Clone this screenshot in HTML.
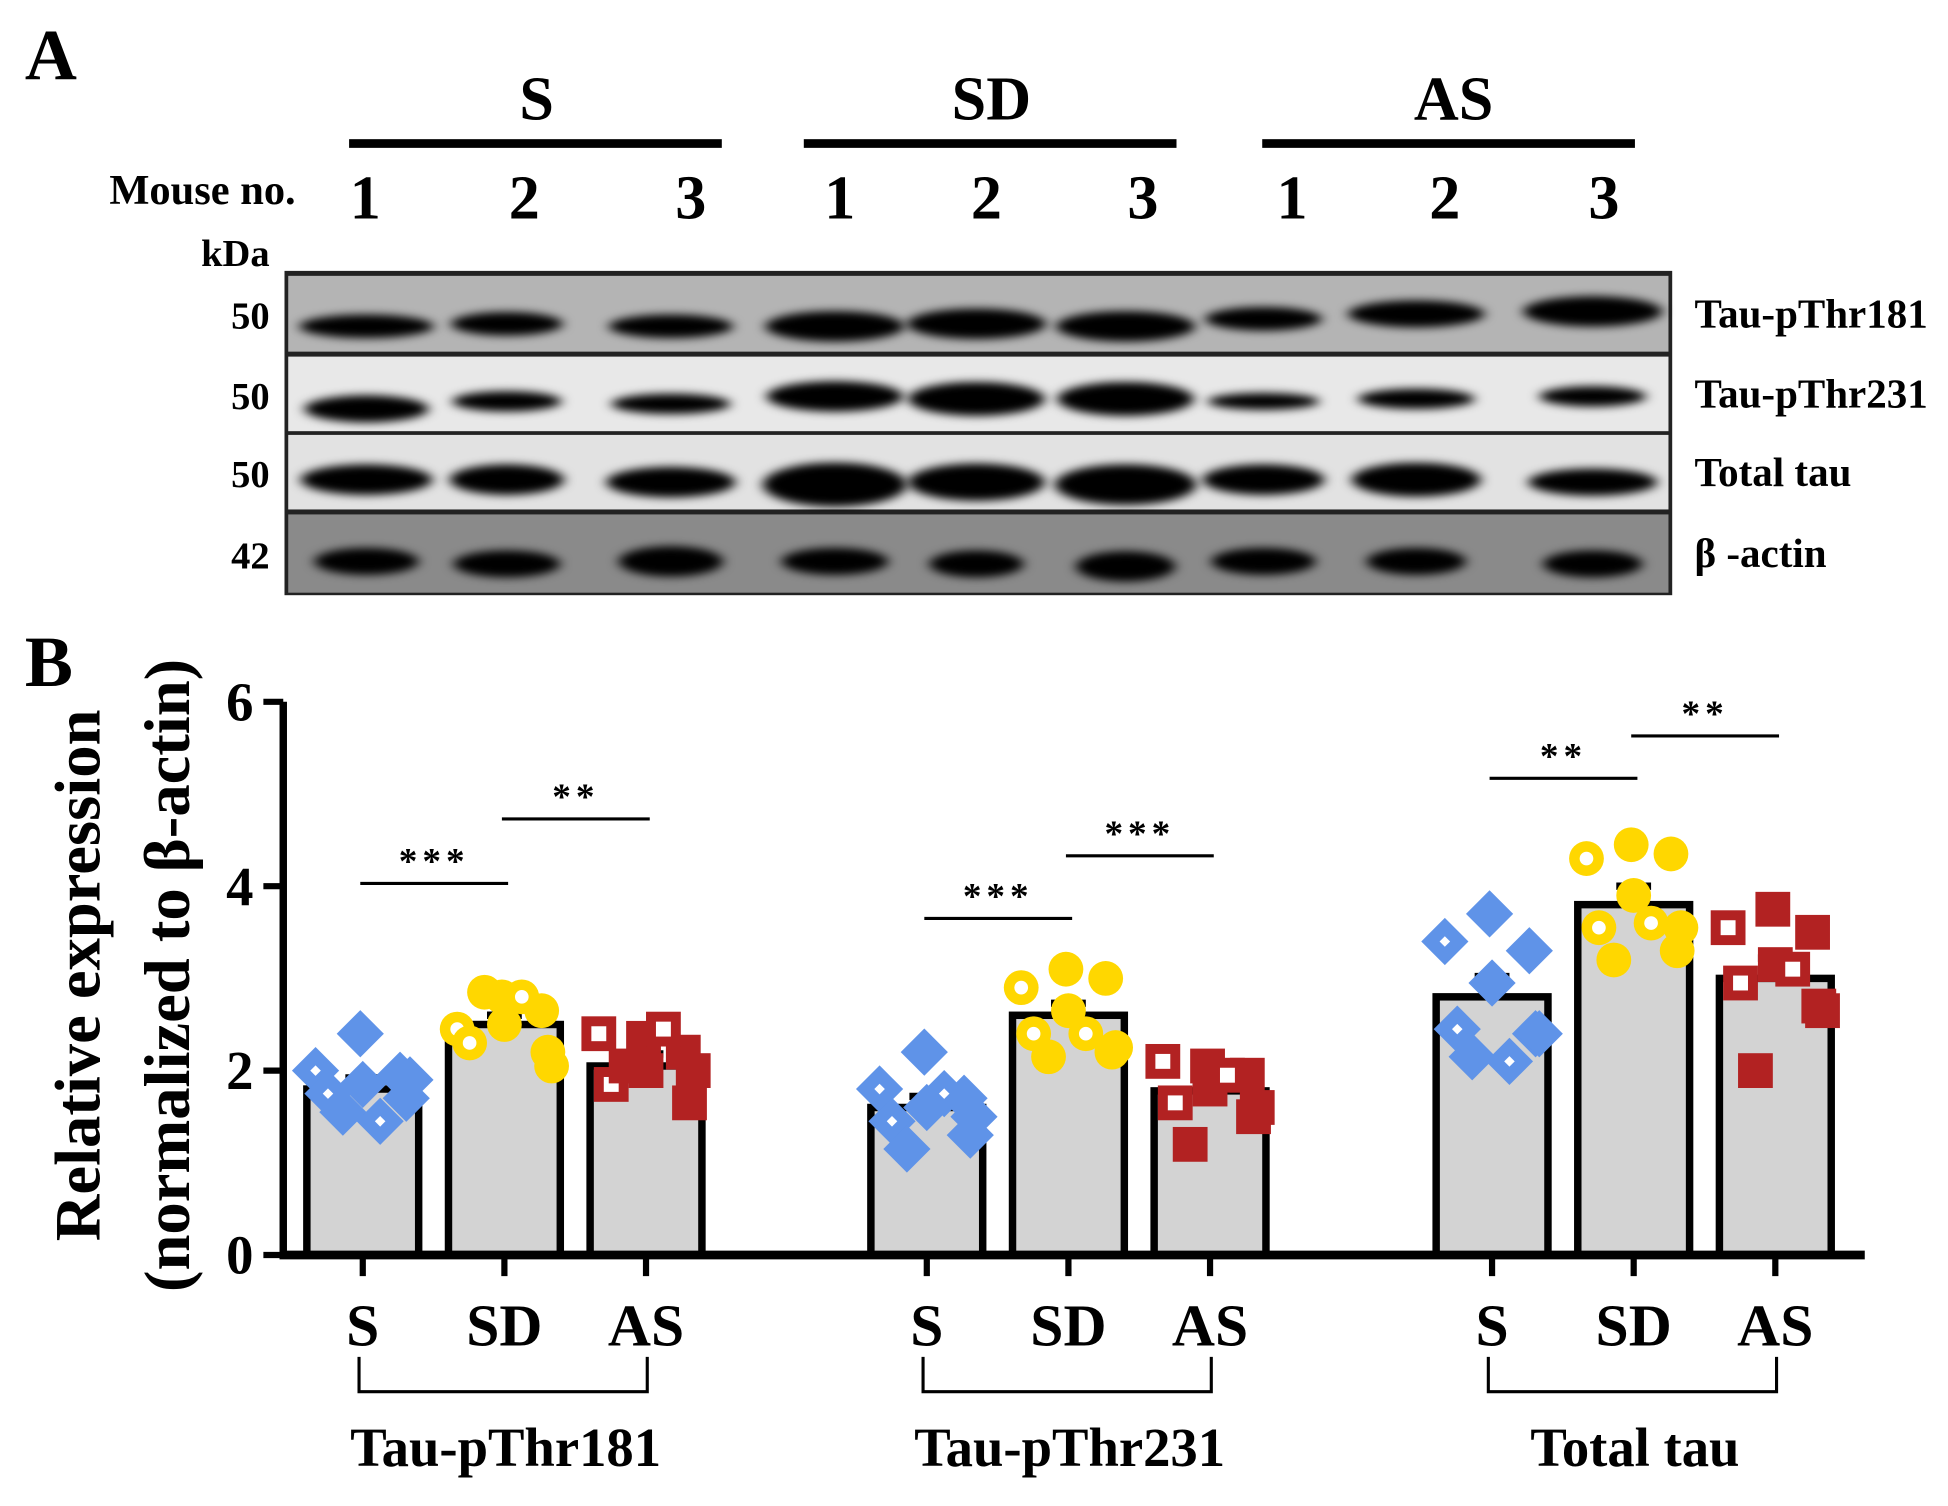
<!DOCTYPE html>
<html><head><meta charset="utf-8">
<style>
html,body{margin:0;padding:0;background:#fff;}
svg{display:block;}
text{font-family:"Liberation Serif",serif;font-weight:bold;fill:#000;}
</style></head>
<body>
<svg id="fig" width="1948" height="1506" viewBox="0 0 1568 1212" preserveAspectRatio="none">
<defs>
<filter id="blur" x="-30%" y="-100%" width="160%" height="300%"><feGaussianBlur stdDeviation="5 3.5"/></filter>
</defs>
<g id="panelA">
  <text x="20" y="64" font-size="58">A</text>
  <text x="432" y="96" font-size="50" text-anchor="middle">S</text>
  <text x="798" y="96" font-size="50" text-anchor="middle">SD</text>
  <text x="1170" y="96" font-size="50" text-anchor="middle">AS</text>
  <rect x="281" y="112" width="300" height="7"/>
  <rect x="647" y="112" width="300" height="7"/>
  <rect x="1016" y="112" width="300" height="7"/>
  <text x="88" y="164" font-size="34" textLength="150" lengthAdjust="spacingAndGlyphs">Mouse no.</text>
  <g id="laneNums"></g>
  <text x="217" y="214" font-size="31" text-anchor="end">kDa</text>
  <g id="blot"></g>
</g>
<g id="panelB">
  <text x="20" y="552" font-size="58">B</text>
  <text transform="translate(80,785) rotate(-90)" font-size="52" text-anchor="middle">Relative expression</text>
  <text transform="translate(152,785) rotate(-90)" font-size="52" text-anchor="middle">(normalized to β-actin)</text>
  <g id="chart"></g>
</g>
</svg>
<script>
const NS='http://www.w3.org/2000/svg';
function mk(tag,attrs,parent){const e=document.createElementNS(NS,tag);for(const k in attrs)e.setAttribute(k,attrs[k]);parent.appendChild(e);return e;}

// ---------- Panel A (blot) ----------
const laneNumbers=['1','2','3','1','2','3','1','2','3'];
const laneNumX=[294,422,556,676,794,920,1040,1163,1291];
const bandX=[295,408,540,672,786,906,1017,1140,1282];
const stripLabels=['Tau-pThr181','Tau-pThr231','Total tau','β -actin'];
const stripKda=['50','50','50','42'];
const stripTop=[222,287,350,414], stripH=[61,60,60,63];
const stripBg=['#b4b4b4','#e8e8e8','#e2e2e2','#8a8a8a'];
const bandW=[[108,90,100,112,112,112,94,110,112],[100,88,96,110,110,110,90,94,86],[106,92,104,116,110,114,98,104,104],[84,86,84,86,76,80,84,80,80]];
const bandH=[[14,14,14,18,18,18,14,16,18],[16,12,12,18,20,20,10,12,12],[18,18,18,26,22,24,18,20,16],[16,16,18,16,16,18,16,16,16]];
const bandDy=[[4,2,4,4,2,4,-2,-6,-8],[6,0,2,-4,-2,-2,0,-2,-4],[0,0,2,4,2,4,0,0,2],[0,2,0,0,2,4,0,0,2]];

const ln=document.getElementById('laneNums');
laneNumbers.forEach((n,i)=>{const t=mk('text',{x:laneNumX[i],y:176,'font-size':50,'text-anchor':'middle'},ln);t.textContent=n;

});

const blot=document.getElementById('blot');
const bb=mk('rect',{x:229,y:218,width:1117,height:261,fill:'#222'},blot);


stripLabels.forEach((lab,s)=>{
  const g=mk('g',{},blot);
  
  
  mk('rect',{x:232,y:stripTop[s],width:1111,height:stripH[s],fill:stripBg[s]},g);
  const cy=stripTop[s]+stripH[s]*0.6;
  bandX.forEach((bx,i)=>{
    const e=mk('ellipse',{cx:bx,cy:cy+bandDy[s][i],rx:bandW[s][i]/2,ry:bandH[s][i]*0.68,fill:'#050505',filter:'url(#blur)'},g);
    
    
  });
  const t=mk('text',{x:1364,y:stripTop[s]+stripH[s]/2+11,'font-size':33},blot);t.textContent=lab;
  
  
  const k=mk('text',{x:217,y:stripTop[s]+stripH[s]/2+12,'font-size':31,'text-anchor':'end'},blot);k.textContent=stripKda[s];
  
  
});

// ---------- Panel B (chart) ----------
const groups=['Tau-pThr181','Tau-pThr231','Total tau'];
const conditions=['S','SD','AS'];
const yTicks=[0,2,4,6];
const yTickLabels=['0','2','4','6'];
const meansG1=[1.8,2.5,2.05];
const meansG2=[1.6,2.6,1.78];
const meansG3=[2.8,3.8,3.0];
const semG1=[0.12,0.1,0.13];
const semG2=[0.12,0.13,0.1];
const semG3=[0.22,0.2,0.22];
const ptsG1S=[2.4,2.0,1.95,1.85,1.75,1.7,1.55,1.45,1.9];
const ptsG1SD=[2.8,2.45,2.65,2.5,2.3,2.2,2.85,2.8,2.05];
const ptsG1AS=[2.35,2.4,2.2,2.0,1.85,1.65,2.05,2.45,2.0];
const ptsG2S=[2.2,1.8,1.7,1.6,1.45,1.3,1.15,1.75,1.5];
const ptsG2SD=[3.1,2.9,3.0,2.65,2.4,2.2,2.15,2.4,2.25];
const ptsG2AS=[2.05,2.1,1.95,1.8,1.65,1.5,1.2,1.95,1.6];
const ptsG3S=[3.7,3.4,3.3,2.95,2.45,2.4,2.15,2.1,2.4];
const ptsG3SD=[4.45,4.3,4.35,3.9,3.55,3.3,3.2,3.6,3.55];
const ptsG3AS=[3.75,3.55,3.5,3.15,2.95,2.7,2.0,3.1,2.65];
const sigLevelsG1=[4.03,4.73];
const sigLevelsG2=[3.65,4.33];
const sigLevelsG3=[5.17,5.63];
const sigStars=[['***','**'],['***','***'],['**','**']];

const means=[meansG1,meansG2,meansG3], sems=[semG1,semG2,semG3];
const pts=[[ptsG1S,ptsG1SD,ptsG1AS],[ptsG2S,ptsG2SD,ptsG2AS],[ptsG3S,ptsG3SD,ptsG3AS]];
const sigs=[sigLevelsG1,sigLevelsG2,sigLevelsG3];

const Y0=1010, PXU=74.2;
const y=v=>Y0-v*PXU;
const groupX0=[292,746,1201], step=114;
const x=(g,c)=>groupX0[g]+c*step;
const barW=90;
const jitter=[-2,-38,30,0,-28,35,-16,14,38];
const colors=['#5f93e8','#ffd700','#b22222'];

const ch=document.getElementById('chart');
means.forEach((ms,g)=>ms.forEach((m,c)=>{
  const r=mk('rect',{x:x(g,c)-barW/2,y:y(m),width:barW,height:Y0-y(m),fill:'#d3d3d3',stroke:'#000','stroke-width':6},ch);
  
  
  const top=y(m+sems[g][c]);
  const e=mk('path',{d:`M${x(g,c)} ${y(m)} V${top} M${x(g,c)-14} ${top} H${x(g,c)+14}`,stroke:'#000','stroke-width':6,fill:'none'},ch);
  
  
}));
pts.forEach((gp,g)=>gp.forEach((arr,c)=>arr.forEach((v,i)=>{
  const px=x(g,c)+jitter[i], py=y(v), col=colors[c], hollow=(i%3===1);
  let m;
  if(c===0){m=mk('path',{d:`M${px} ${py-19} L${px+19} ${py} L${px} ${py+19} L${px-19} ${py} Z`,fill:col},ch);
    if(hollow)mk('rect',{x:px-3,y:py-3,width:6,height:6,fill:'#fff',transform:`rotate(45 ${px} ${py})`},ch);}
  else if(c===1){m=mk('circle',{cx:px,cy:py,r:14,fill:col},ch);
    if(hollow)mk('circle',{cx:px,cy:py,r:5.5,fill:'#fff'},ch);}
  else {m=mk('rect',{x:px-14,y:py-14,width:28,height:28,fill:col},ch);
    if(hollow)mk('rect',{x:px-6,y:py-6,width:12,height:12,fill:'#fff'},ch);}
  
  
})));
const ya=mk('path',{d:`M228 ${y(6)} V${Y0+3}`,stroke:'#000','stroke-width':6},ch);


const xa=mk('path',{d:`M225 ${Y0} H1501`,stroke:'#000','stroke-width':7},ch);


yTicks.forEach((v,i)=>{
  const t=mk('path',{d:`M212 ${y(v)} H228`,stroke:'#000','stroke-width':5},ch);
  
  
  const l=mk('text',{x:204,y:y(v)+15,'font-size':44,'text-anchor':'end'},ch);l.textContent=yTickLabels[i];
  
  
});
groups.forEach((gname,g)=>{
  conditions.forEach((cn,c)=>{
    const t=mk('path',{d:`M${x(g,c)} ${Y0} V${Y0+17}`,stroke:'#000','stroke-width':5},ch);
    
    
    const l=mk('text',{x:x(g,c),y:1083,'font-size':48,'text-anchor':'middle'},ch);l.textContent=cn;
    
    
  });
  const bx0=x(g,0)-3,bx1=x(g,2)+1;
  const br=mk('path',{d:`M${bx0} 1092 V1120 H${bx1} V1092`,stroke:'#000','stroke-width':2.5,fill:'none'},ch);
  
  
  const gl=mk('text',{x:x(g,1)+1,y:1180,'font-size':44,'text-anchor':'middle'},ch);gl.textContent=gname;
  
  
  sigs[g].forEach((lv,k)=>{
    const a=x(g,k)-2,b=x(g,k+1)+3;
    const s=mk('path',{d:`M${a} ${y(lv)} H${b}`,stroke:'#000','stroke-width':2.5},ch);
    
    
    const st=mk('text',{x:(a+b)/2,y:y(lv)-8,'font-size':30,'text-anchor':'middle','letter-spacing':4},ch);st.textContent=sigStars[g][k];
    
    
  });
});
</script>
</body></html>
